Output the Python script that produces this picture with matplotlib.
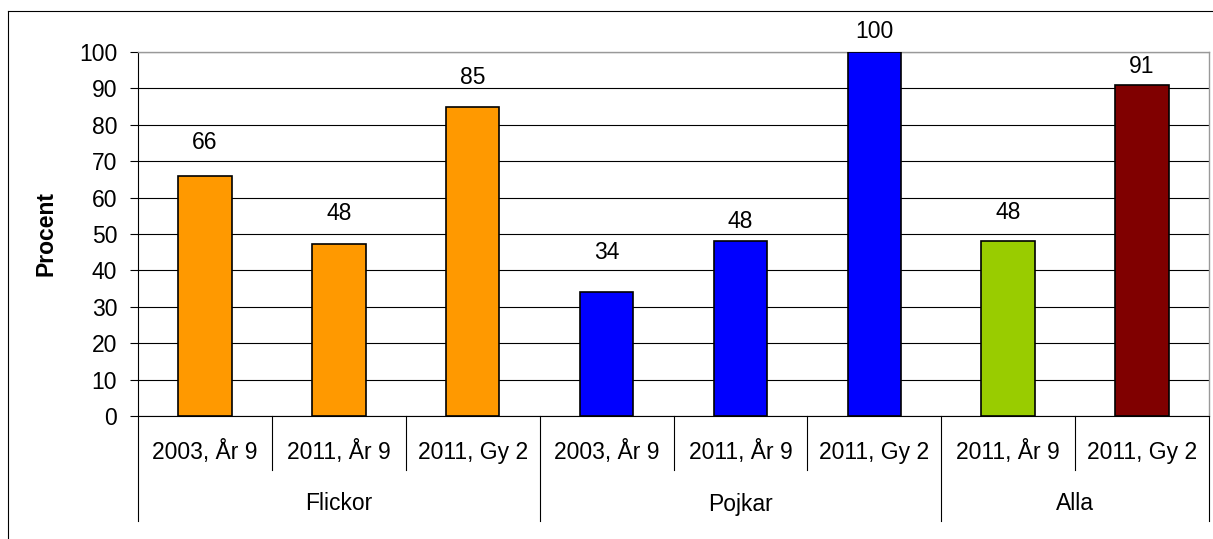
# Andel i procent per grupp och årskurs
import matplotlib.pyplot as plt
from matplotlib.lines import Line2D

plt.rcParams['font.family'] = ['Liberation Sans', 'DejaVu Sans']

# Data
kategorier = ["2003, År 9", "2011, År 9", "2011, Gy 2",
              "2003, År 9", "2011, År 9", "2011, Gy 2",
              "2011, År 9", "2011, Gy 2"]
grupper = ["Flickor", "Pojkar", "Alla"]
grupp_storlek = [3, 3, 2]
varden = [66, 47.3, 85, 34, 48, 100, 48, 91]
etiketter = ["66", "48", "85", "34", "48", "100", "48", "91"]
farger = ["#FF9900"] * 3 + ["#0000FF"] * 3 + ["#99CC00", "#800000"]

# etiketterna är handplacerade i originalet (avstånd ovanför stapeln, px)
etikett_avstand = [33, 30, 29, 40, 20, 20, 29, 18]

FS = 16.5
W, H = 1213, 539
fig = plt.figure(figsize=(W / 100, H / 100), dpi=100)
ax = fig.add_axes([138 / W, 1 - 416 / H, (1209 - 138) / W, (416 - 52) / H])

x = range(len(varden))
ax.bar(x, varden, width=0.4, color=farger, edgecolor="black", linewidth=1.2, zorder=3)

# Värden ovanför staplarna
for i, v in enumerate(varden):
    ax.annotate(etiketter[i], (i, v), xytext=(0, etikett_avstand[i] * 0.72),
                textcoords="offset points", ha="center", va="center",
                fontsize=FS, zorder=4, annotation_clip=False)

ax.set_xlim(-0.5, len(varden) - 0.5)
ax.set_ylim(0, 100)
ax.set_yticks(range(0, 101, 10))
ax.tick_params(axis="y", labelsize=FS, length=6, width=0.8, pad=9)
ax.set_xticks([])
ax.yaxis.grid(True, color="black", linewidth=0.8, zorder=0)
ax.set_axisbelow(True)

for s in ["top", "right"]:
    ax.spines[s].set_color("#999999")
    ax.spines[s].set_linewidth(1)
for s in ["left", "bottom"]:
    ax.spines[s].set_linewidth(0.8)

ax.set_ylabel("Procent", fontsize=FS, fontweight="bold")
ax.yaxis.set_label_coords(-80 / 1071, 0.5)

# Kategori- och gruppetiketter under axeln
tr = ax.get_xaxis_transform()
for i, k in enumerate(kategorier):
    ax.text(i, -36 / 364, k, transform=tr, ha="center", va="center", fontsize=FS)

start = 0
ax.plot([-0.5, -0.5], [0, -105 / 364], transform=tr, color="black", lw=0.8, clip_on=False)
for g, n in zip(grupper, grupp_storlek):
    for j in range(1, n):
        b = start + j - 0.5
        ax.plot([b, b], [0, -54 / 364], transform=tr, color="black", lw=0.8, clip_on=False)
    slut = start + n - 0.5
    ax.plot([slut, slut], [0, -105 / 364], transform=tr, color="black", lw=0.8, clip_on=False)
    ax.text(start - 0.5 + n / 2, -88 / 364, g, transform=tr, ha="center", va="center", fontsize=FS)
    start += n

# Yttre ram (vänster och överkant)
fig.add_artist(Line2D([8 / W, 8 / W], [0, 1 - 11 / H], color="black", lw=0.8))
fig.add_artist(Line2D([8 / W, 1], [1 - 11 / H, 1 - 11 / H], color="black", lw=0.8))

fig.savefig("out.png", dpi=100)
